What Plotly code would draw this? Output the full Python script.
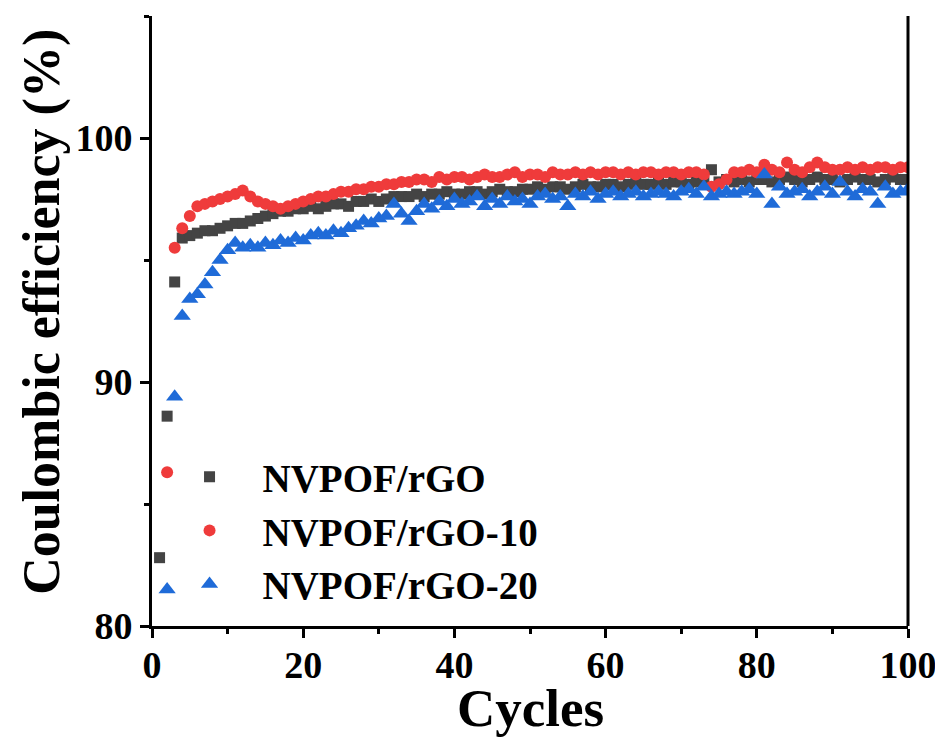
import plotly.graph_objects as go

cycles = list(range(1, 101))

ce_rgo = [82.8, 88.6, 94.1, 95.9, 96.0, 96.1, 96.2, 96.2, 96.3, 96.4,
          96.5, 96.5, 96.6, 96.7, 96.8, 96.9, 97.0, 97.0, 97.1, 97.1,
          97.2, 97.1, 97.2, 97.3, 97.3, 97.2, 97.4, 97.4, 97.5, 97.4,
          97.5, 97.6, 97.6, 97.6, 97.7, 97.6, 97.7, 97.7, 97.8, 97.7,
          97.7, 97.8, 97.8, 97.7, 97.8, 97.9, 97.8, 97.8, 97.9, 97.9,
          98.0, 97.9, 98.0, 98.0, 97.9, 98.0, 98.1, 98.0, 98.0, 98.1,
          98.1, 98.0, 98.1, 98.2, 98.1, 98.1, 98.2, 98.1, 98.2, 98.2,
          98.1, 98.2, 98.2, 98.7, 98.2, 98.3, 98.2, 98.3, 98.2, 98.3,
          98.3, 98.2, 98.3, 98.4, 98.3, 98.2, 98.3, 98.4, 98.3, 98.3,
          98.2, 98.3, 98.4, 98.3, 98.3, 98.2, 98.3, 98.4, 98.3, 98.3]

ce_rgo10 = [None, 86.3, 95.5, 96.3, 96.8, 97.2, 97.3, 97.4, 97.5, 97.6,
            97.7, 97.85, 97.6, 97.4, 97.3, 97.2, 97.1, 97.2, 97.3, 97.4,
            97.5, 97.6, 97.6, 97.7, 97.8, 97.8, 97.9, 97.9, 98.0, 98.0,
            98.1, 98.1, 98.2, 98.2, 98.3, 98.3, 98.2, 98.4, 98.3, 98.4,
            98.4, 98.3, 98.4, 98.5, 98.4, 98.4, 98.5, 98.6, 98.4, 98.5,
            98.5, 98.4, 98.6, 98.5, 98.5, 98.6, 98.5, 98.6, 98.5, 98.6,
            98.6, 98.5, 98.6, 98.5, 98.6, 98.6, 98.5, 98.6, 98.6, 98.5,
            98.6, 98.6, 98.5, 98.0, 98.1, 98.3, 98.6, 98.6, 98.7, 98.6,
            98.9, 98.7, 98.6, 99.0, 98.7, 98.6, 98.8, 99.0, 98.8, 98.7,
            98.7, 98.8, 98.7, 98.8, 98.7, 98.8, 98.8, 98.7, 98.8, 98.8]

ce_rgo20 = [None, 81.5, 89.4, 92.7, 93.4, 93.6, 94.0, 94.5, 95.0, 95.4,
            95.7, 95.5, 95.6, 95.5, 95.7, 95.6, 95.8, 95.7, 95.9, 95.8,
            96.0, 96.1, 96.0, 96.2, 96.1, 96.3, 96.4, 96.6, 96.5, 96.7,
            96.8, 97.3, 96.9, 96.6, 97.0, 97.3, 97.1, 97.4, 97.2, 97.5,
            97.3, 97.4, 97.6, 97.2, 97.5, 97.3, 97.6, 97.4, 97.5, 97.3,
            97.6, 97.7, 97.5, 97.6, 97.2, 97.7, 97.6, 97.8, 97.5, 97.7,
            97.8, 97.6, 97.7, 97.8, 97.6, 97.7, 97.8, 97.7, 97.6, 97.8,
            97.9, 97.7, 98.0, 97.6, 97.7, 97.8, 97.7, 97.8, 97.9, 97.7,
            98.5, 97.3, 98.0, 97.7, 97.8, 97.9, 97.6, 97.8, 98.0, 97.7,
            98.2, 97.8, 97.6, 97.9, 97.8, 97.3, 98.0, 97.7, 97.8, 97.9]

series_names = ["NVPOF/rGO", "NVPOF/rGO-10", "NVPOF/rGO-20"]
x_ticks = [0, 20, 40, 60, 80, 100]
y_ticks = [80, 90, 100]
x_title = "Cycles"
y_title = "Coulombic efficiency (%)"

FONT = "Times New Roman, Liberation Serif, serif"

fig = go.Figure()
fig.add_trace(go.Scatter(x=cycles, y=ce_rgo, mode="markers", name=series_names[0],
                         marker=dict(symbol="square", size=11, color="#444444")))
fig.add_trace(go.Scatter(x=cycles, y=ce_rgo10, mode="markers", name=series_names[1],
                         marker=dict(symbol="circle", size=12, color="#ef3b3b")))
fig.add_trace(go.Scatter(x=cycles, y=ce_rgo20, mode="markers", name=series_names[2],
                         marker=dict(symbol="triangle-up", size=15, color="#1f6bd8")))

axis_common = dict(
    showline=True, linecolor="black", linewidth=3, mirror=False,
    showgrid=False, zeroline=False, automargin=False,
    ticks="outside", ticklen=9, tickwidth=3, tickcolor="black",
    tickfont=dict(family=FONT, size=38, color="black", weight="bold"),
)

# the page body has an 8px margin, so the figure is sized to fit the window
fig.update_layout(
    width=935, height=730,
    paper_bgcolor="white", plot_bgcolor="white",
    margin=dict(l=144, r=35, t=8, b=112),
    font=dict(family=FONT, color="black"),
    xaxis=dict(
        range=[0, 100], tickvals=x_ticks, ticklabelstandoff=-6,
        minor=dict(ticks="outside", ticklen=5, tickwidth=3, tickcolor="black", dtick=10, tick0=0),
        **axis_common,
    ),
    yaxis=dict(
        range=[80, 105], tickvals=y_ticks,
        minor=dict(ticks="outside", ticklen=5, tickwidth=3, tickcolor="black", dtick=5, tick0=80),
        **axis_common,
    ),
    legend=dict(
        x=0.006, y=0.297, xanchor="left", yanchor="top",
        bgcolor="rgba(0,0,0,0)",
        font=dict(family=FONT, size=39, color="black", weight="bold"),
        itemwidth=96, tracegroupgap=0,
    ),
    showlegend=True,
    annotations=[
        dict(text=x_title, xref="paper", yref="paper", x=0.5, y=-0.135,
             xanchor="center", yanchor="middle", showarrow=False,
             font=dict(family=FONT, size=53, color="black", weight="bold")),
        dict(text=y_title, xref="paper", yref="paper", x=-0.1455, y=0.515,
             xanchor="center", yanchor="middle", showarrow=False, textangle=-90,
             font=dict(family=FONT, size=52, color="black", weight="bold")),
    ],
)

# right border line
fig.add_shape(type="line", xref="paper", yref="paper", x0=1, x1=1, y0=0, y1=1,
              line=dict(color="black", width=3))

fig.write_html("out.html")
